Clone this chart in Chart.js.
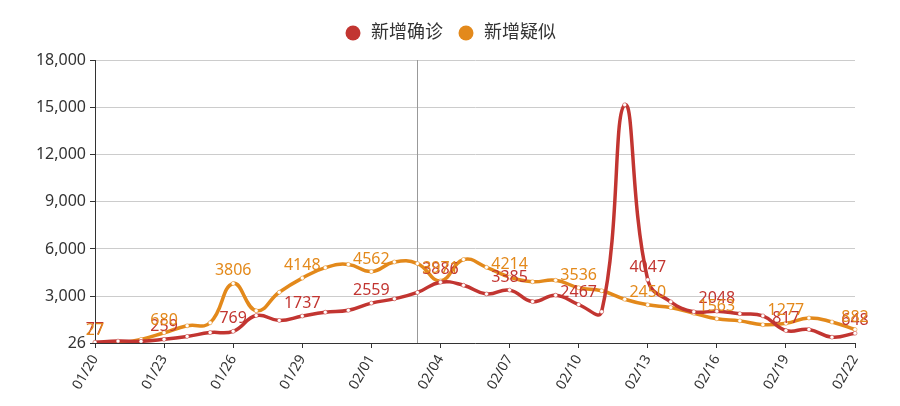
<!DOCTYPE html>
<html>
<head>
<meta charset="utf-8">
<script src="https://cdn.jsdelivr.net/npm/chart.js@4"></script>
<style>
html,body{margin:0;padding:0;background:#fff;}
#wrap{width:900px;height:406px;position:relative;}
</style>
</head>
<body>
<div id="wrap"><canvas id="c" width="900" height="406"></canvas></div>
<script>
const dates = ['01/20','01/21','01/22','01/23','01/24','01/25','01/26','01/27','01/28','01/29','01/30','01/31','02/01','02/02','02/03','02/04','02/05','02/06','02/07','02/08','02/09','02/10','02/11','02/12','02/13','02/14','02/15','02/16','02/17','02/18','02/19','02/20','02/21','02/22'];
const confirmed = [77,149,131,259,444,688,769,1771,1459,1737,1982,2102,2559,2829,3235,3886,3694,3143,3385,2656,3062,2467,2015,15152,4047,2641,2009,2048,1886,1749,817,889,397,648];
const suspected = [27,26,257,680,1118,1309,3806,2077,3248,4148,4812,5019,4562,5173,5072,3971,5328,4833,4214,3916,4008,3536,3342,2807,2450,2277,1918,1563,1432,1185,1277,1614,1361,882];
const yTicks = [26,3000,6000,9000,12000,15000,18000];
const seriesNames = ['新增确诊','新增疑似'];
const colors = ['#c23531','#e3891b'];
const pointerIndex = 14;

const FONT = '"Noto Sans","Noto Sans CJK SC",sans-serif';

const labelPlugin = {
  id: 'valueLabels',
  afterDatasetsDraw(chart) {
    const ctx = chart.ctx;
    ctx.save();
    ctx.font = '16px ' + FONT;
    ctx.textAlign = 'center';
    ctx.textBaseline = 'alphabetic';
    chart.data.datasets.forEach((ds, di) => {
      const meta = chart.getDatasetMeta(di);
      meta.data.forEach((pt, i) => {
        if (i % 3 !== 0) return;
        ctx.fillStyle = colors[di];
        ctx.fillText(String(ds.data[i]), pt.x, pt.y - 8);
      });
    });
    ctx.restore();
  }
};

const pointerPlugin = {
  id: 'pointerLine',
  beforeDatasetsDraw(chart) {
    const x = chart.scales.x.getPixelForValue(pointerIndex);
    const a = chart.chartArea;
    const ctx = chart.ctx;
    ctx.save();
    ctx.strokeStyle = '#999';
    ctx.lineWidth = 1;
    ctx.beginPath();
    ctx.moveTo(Math.round(x) + 0.5, a.top);
    ctx.lineTo(Math.round(x) + 0.5, a.bottom);
    ctx.stroke();
    ctx.restore();
  }
};

const legendHeightPlugin = {
  id: 'legendHeight',
  beforeUpdate(chart) {
    const lg = chart.legend;
    if (lg && !lg._patched) {
      const orig = lg.fit;
      lg.fit = function () { orig.call(this); this.height = 50; };
      lg._patched = true;
    }
  }
};

new Chart(document.getElementById('c'), {
  type: 'line',
  data: {
    labels: dates,
    datasets: [0, 1].map(i => ({
      label: seriesNames[i],
      data: i === 0 ? confirmed : suspected,
      borderColor: colors[i],
      backgroundColor: colors[i],
      borderWidth: 3.5,
      tension: 0.45,
      pointRadius: 2,
      pointBackgroundColor: '#fff',
      pointBorderColor: colors[i],
      pointBorderWidth: 0.5,
      fill: false
    }))
  },
  options: {
    responsive: false,
    animation: false,
    layout: { padding: { left: 0, right: 0, top: 10, bottom: 0 } },
    plugins: {
      legend: {
        position: 'top',
        labels: {
          usePointStyle: true,
          pointStyle: 'circle',
          boxWidth: 18,
          boxHeight: 10.6,
          padding: 14,
          color: '#333',
          font: { size: 18, family: FONT },
          generateLabels(chart) {
            return chart.data.datasets.map((ds, i) => ({
              text: ds.label, fillStyle: colors[i], strokeStyle: colors[i],
              lineWidth: 0, pointStyle: 'circle', datasetIndex: i, fontColor: '#333'
            }));
          }
        }
      },
      tooltip: { enabled: false }
    },
    scales: {
      x: {
        type: 'category',
        offset: false,
        afterBuildTicks(scale) { scale.ticks = scale.ticks.filter((t, i) => i % 3 === 0); },
        afterFit(scale) { scale.height = 63; },
        grid: { drawOnChartArea: false, drawTicks: true, tickLength: 5, tickColor: '#333' },
        border: { display: true, color: '#333', width: 1 },
        ticks: {
          autoSkip: false, minRotation: 60, maxRotation: 60, padding: 4,
          color: '#333', font: { size: 14, family: FONT }
        }
      },
      y: {
        min: 26, max: 18000,
        afterBuildTicks(scale) { scale.ticks = yTicks.map(v => ({ value: v })); },
        afterFit(scale) { scale.width = 95; },
        grid: { color: '#ccc', tickColor: '#333', tickLength: 5, drawTicks: true },
        border: { display: true, color: '#333', width: 1 },
        ticks: {
          padding: 4, color: '#333', font: { size: 16, family: FONT },
          callback(v) { return Number(v).toLocaleString('en-US'); }
        }
      },
      yRight: {
        type: 'linear', position: 'right', display: true,
        min: 0, max: 1,
        afterFit(scale) { scale.width = 45; },
        grid: { display: false, drawTicks: false },
        border: { display: false },
        ticks: { display: false }
      }
    }
  },
  plugins: [legendHeightPlugin, pointerPlugin, labelPlugin]
});
</script>
</body>
</html>
